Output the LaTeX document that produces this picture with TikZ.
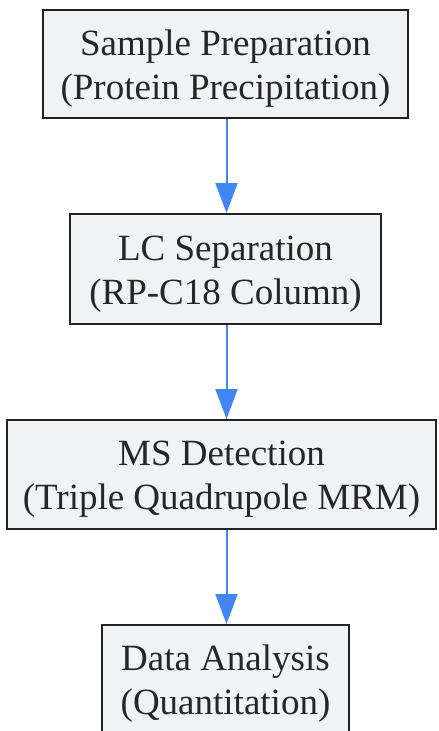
\documentclass[tikz,border=0pt]{standalone}
\usepackage{fontspec}
\setmainfont{Liberation Serif}
\usetikzlibrary{arrows.meta}
\definecolor{boxfill}{HTML}{F1F2F4}
\definecolor{boxline}{HTML}{222222}
\definecolor{arrowblue}{HTML}{4285F4}
\begin{document}
\begin{tikzpicture}[x=1pt,y=-1pt,
  stepbox/.style={draw=boxline, fill=boxfill, line width=2pt, inner sep=0pt},
  steptext/.style={align=center, inner sep=0pt, yshift=-5pt,
    font=\fontsize{37}{44}\selectfont, text=black!85},
  flow/.style={draw=arrowblue, line width=2pt, -{Triangle[width=22pt,length=30pt]}}]
\useasboundingbox (0,0) rectangle (439,731);
\node[stepbox, minimum width=365pt, minimum height=108pt] (a) at (225.5,64) {};
\node[stepbox, minimum width=311pt, minimum height=110pt] (b) at (225.5,269) {};
\node[stepbox, minimum width=429pt, minimum height=109pt] (c) at (221.5,474.5) {};
\node[stepbox, minimum width=247pt, minimum height=108pt] (d) at (225.5,679) {};
\node[steptext] (at) at (a.center) {Sample Preparation\\(Protein Precipitation)};
\node[steptext] (bt) at (b.center) {LC Separation\\(RP-C18 Column)};
\node[steptext] (ct) at (c.center) {MS Detection\\(Triple Quadrupole MRM)};
\node[steptext] (dt) at (d.center) {Data Analysis\\(Quantitation)};
\draw[flow] ([xshift=1pt]a.south) -- ([xshift=1pt]a.south |- b.north);
\draw[flow] ([xshift=1pt]b.south) -- ([xshift=1pt]b.south |- c.north);
\draw[flow] ([xshift=5pt]c.south) -- ([xshift=5pt]c.south |- d.north);
\end{tikzpicture}
\end{document}
